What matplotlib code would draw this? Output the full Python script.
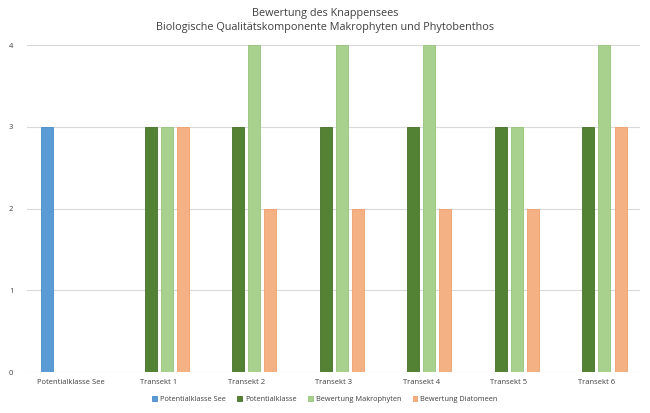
import numpy as np
import matplotlib.pyplot as plt

plt.rcParams['font.family'] = ['Open Sans', 'DejaVu Sans']

categories = ['Potentialklasse See', 'Transekt 1', 'Transekt 2', 'Transekt 3',
              'Transekt 4', 'Transekt 5', 'Transekt 6']
series_names = ['Potentialklasse See', 'Potentialklasse', 'Bewertung Makrophyten',
                'Bewertung Diatomeen']
potentialklasse_see = [3, np.nan, np.nan, np.nan, np.nan, np.nan, np.nan]
potentialklasse = [np.nan, 3, 3, 3, 3, 3, 3]
makrophyten = [np.nan, 3, 4, 4, 4, 3, 4]
diatomeen = [np.nan, 3, 2, 2, 2, 2, 3]

colors = ['#5B9BD5', '#548235', '#A9D18E', '#F4B183']
edges = ['#4A8BC8', '#44712A', '#96C47A', '#EFA06C']

fig = plt.figure(figsize=(6.5, 4.13), dpi=100)
ax = fig.add_axes([0.042, 0.099, 0.943, 0.792])

x = np.arange(len(categories))
step = 0.183
width = 0.137
all_series = [potentialklasse_see, potentialklasse, makrophyten, diatomeen]
for i, vals in enumerate(all_series):
    ax.bar(x + (i - 1.5) * step, vals, width, color=colors[i], edgecolor=edges[i],
           linewidth=0.6, label=series_names[i], zorder=3)

ax.set_xlim(-0.5, len(categories) - 0.5)
ax.set_ylim(0, 4)
ax.set_yticks([0, 1, 2, 3, 4])
ax.set_xticks(x)
ax.set_xticklabels(categories, fontsize=5.5, color='#404040')
ax.tick_params(axis='y', labelsize=5.5, colors='#404040', length=0, pad=10)
ax.tick_params(axis='x', length=0, pad=5)
ax.grid(axis='y', color='#D9D9D9', linewidth=0.8, zorder=0)
for s in ax.spines.values():
    s.set_visible(False)

fig.text(0.5, 0.967, 'Bewertung des Knappensees', ha='center', va='center',
         fontsize=7.8, color='#404040')
fig.text(0.5, 0.933, 'Biologische Qualitätskomponente Makrophyten und Phytobenthos',
         ha='center', va='center', fontsize=7.8, color='#404040')

leg = fig.legend(loc='center', bbox_to_anchor=(0.5, 0.033), ncol=4, frameon=False,
                 fontsize=5.3, handlelength=0.6, handleheight=0.6, columnspacing=1.6,
                 handletextpad=0.4)
for t in leg.get_texts():
    t.set_color('#404040')

fig.savefig('out.png', dpi=100)
